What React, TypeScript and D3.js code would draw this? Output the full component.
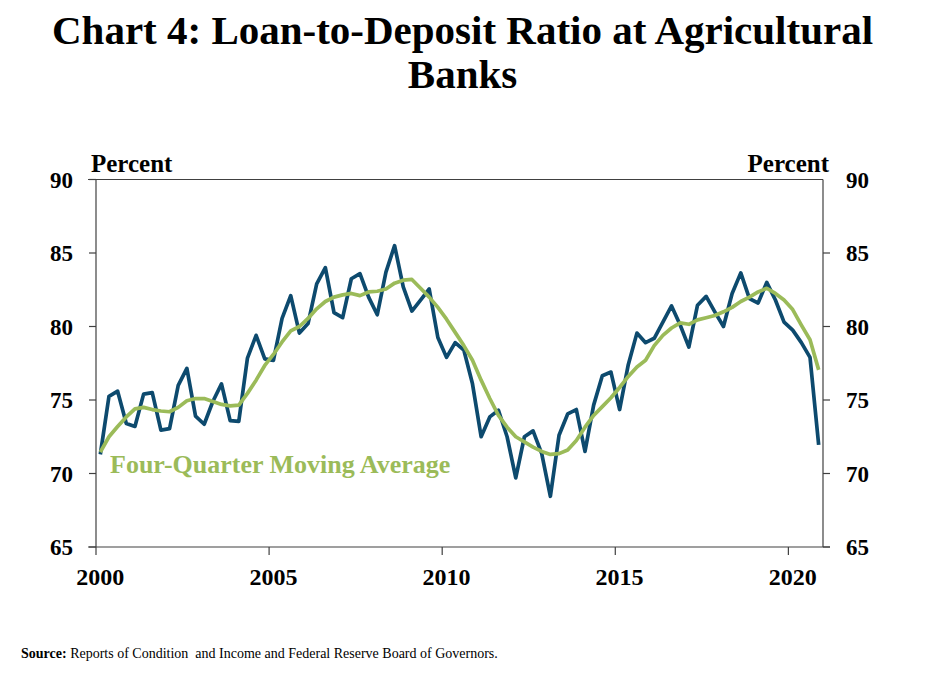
import * as d3 from "d3";

// quarterly observations 2000Q1 .. 2020Q4
const years = d3.range(2000, 2021);
const quarters = years.flatMap(y => [1, 2, 3, 4].map(q => `${y}Q${q}`));

const loanToDeposit = [
  71.3, 75.25, 75.6, 73.4, 73.2, 75.4, 75.5, 72.95, 73.05, 76.0,
  77.15, 73.9, 73.35, 74.9, 76.1, 73.6, 73.55, 77.85, 79.4, 77.8,
  77.7, 80.55, 82.1, 79.55, 80.2, 82.9, 84.0, 80.95, 80.6, 83.25,
  83.6, 82.0, 80.8, 83.7, 85.5, 82.7, 81.05, 81.8, 82.55, 79.25,
  77.9, 78.9, 78.4, 76.1, 72.5, 73.85, 74.3, 72.5, 69.7, 72.5,
  72.9, 71.35, 68.45, 72.6, 74.05, 74.35, 71.5, 74.65, 76.65, 76.9,
  74.35, 77.4, 79.55, 78.9, 79.2, 80.3, 81.4, 80.1, 78.6, 81.45,
  82.05, 81.0, 80.0, 82.25, 83.65, 81.9, 81.6, 83.0, 81.8, 80.3,
  79.75, 78.9, 77.9, 71.95,
];

const movingAverage = [
  71.45, 72.5, 73.2, 73.85, 74.4, 74.5, 74.35, 74.25, 74.2, 74.5,
  74.95, 75.1, 75.1, 74.9, 74.7, 74.6, 74.65, 75.45, 76.35, 77.35,
  78.1, 78.95, 79.7, 80.0, 80.55, 81.2, 81.7, 82.0, 82.15, 82.25,
  82.1, 82.35, 82.4, 82.55, 82.95, 83.15, 83.2, 82.6, 82.0, 81.3,
  80.5, 79.6, 78.7, 77.7, 76.35, 75.1, 73.95, 73.15, 72.5, 72.15,
  71.8, 71.5, 71.3, 71.35, 71.6, 72.25, 73.15, 73.95, 74.55, 75.15,
  75.85, 76.6, 77.25, 77.7, 78.7, 79.4, 79.9, 80.25, 80.15, 80.45,
  80.6, 80.75, 81.0, 81.3, 81.7, 82.0, 82.35, 82.6, 82.25, 81.8,
  81.15, 80.1, 79.1, 77.05,
];

const yTicks = [65, 70, 75, 80, 85, 90];
const xTickYears = ["2000", "2005", "2010", "2015", "2020"];

const W = 925;
const H = 693;
const FONT = '"Times New Roman", "Liberation Serif", serif';
const BLUE = "#0d4a6e";
const GREEN = "#9bbb59";
const AXIS = "#404040";

export default function App() {
  const left = 96;
  const right = 823;
  const top = 179.5;
  const bottom = 547;

  const x = d3.scalePoint<string>().domain(quarters).range([left, right]).padding(0.5);
  const step = x.step();
  const y = d3.scaleLinear().domain([65, 90]).range([bottom, top]);

  const lineGen = d3.line<number>()
    .x((_, i) => x(quarters[i])!)
    .y(d => y(d));

  return (
    <svg
      width={W}
      height={H}
      style={{ position: "absolute", left: 0, top: 0, background: "#fff" }}
      fontFamily={FONT}
    >
      {/* title */}
      <text x={W / 2} y={44} textAnchor="middle" fontSize={41} fontWeight="bold">
        Chart 4: Loan-to-Deposit Ratio at Agricultural
      </text>
      <text x={W / 2} y={88} textAnchor="middle" fontSize={41} fontWeight="bold">
        Banks
      </text>

      {/* axis unit labels */}
      <text x={91} y={172} fontSize={25} fontWeight="bold">Percent</text>
      <text x={829} y={172} fontSize={25} fontWeight="bold" textAnchor="end">Percent</text>

      {/* frame */}
      <line x1={left - 8} x2={right} y1={top} y2={top} stroke={AXIS} strokeWidth={1.2} />
      <line x1={left - 8} x2={right + 7} y1={bottom} y2={bottom} stroke={AXIS} strokeWidth={1.2} />
      <line x1={left} x2={left} y1={top} y2={bottom} stroke={AXIS} strokeWidth={1.2} />
      <line x1={right} x2={right} y1={top} y2={bottom} stroke={AXIS} strokeWidth={1.2} />

      {/* y ticks, both sides */}
      {yTicks.map(t => (
        <g key={t}>
          <line x1={left - 7} x2={left} y1={y(t)} y2={y(t)} stroke={AXIS} strokeWidth={1.2} />
          {t < 90 && (
            <line x1={right} x2={right + 7} y1={y(t)} y2={y(t)} stroke={AXIS} strokeWidth={1.2} />
          )}
          <text x={73} y={y(t)} dy="0.35em" textAnchor="end" fontSize={23} fontWeight="bold">{t}</text>
          <text x={846} y={y(t)} dy="0.35em" fontSize={23} fontWeight="bold">{t}</text>
        </g>
      ))}

      {/* x ticks at year boundaries, labels on first quarter */}
      {xTickYears.map(yr => {
        const cx = x(`${yr}Q1`)!;
        return (
          <g key={yr}>
            <line x1={cx - step / 2} x2={cx - step / 2} y1={bottom} y2={bottom + 8} stroke={AXIS} strokeWidth={1.2} />
            <text x={cx} y={585} textAnchor="middle" fontSize={24} fontWeight="bold">{yr}</text>
          </g>
        );
      })}

      {/* series */}
      <path d={lineGen(loanToDeposit)!} fill="none" stroke={BLUE} strokeWidth={3.7} strokeLinejoin="round" />
      <path d={lineGen(movingAverage)!} fill="none" stroke={GREEN} strokeWidth={3.7} strokeLinejoin="round" />

      <text x={110} y={473} fontSize={26} fontWeight="bold" fill={GREEN}>
        Four-Quarter Moving Average
      </text>

      {/* source */}
      <text x={21} y={658} fontSize={14} style={{ whiteSpace: "pre" }}>
        <tspan fontWeight="bold">Source:</tspan>
        <tspan>{" Reports of Condition  and Income and Federal Reserve Board of Governors."}</tspan>
      </text>
    </svg>
  );
}
